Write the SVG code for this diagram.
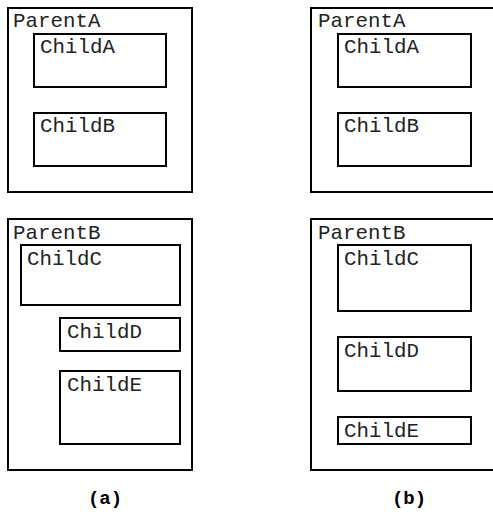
<svg xmlns="http://www.w3.org/2000/svg" width="493" height="517" viewBox="0 0 493 517">
<style>
rect{fill:#fff;stroke:#000;stroke-width:2}
text{font-family:"Liberation Mono","Courier New",monospace;font-size:20.8px;fill:#222}
.cap{font-weight:bold;font-size:19px;text-anchor:middle;fill:#000}
</style>
<rect x="0" y="0" width="493" height="517" style="stroke:none"/>
<g id="a-parentA"><rect x="8" y="8" width="184" height="184"/><text x="13" y="27">ParentA</text></g>
<g id="a-childA"><rect x="34" y="34" width="132" height="53"/><text x="40" y="53">ChildA</text></g>
<g id="a-childB"><rect x="34" y="113" width="132" height="53"/><text x="40" y="132">ChildB</text></g>
<g id="a-parentB"><rect x="8" y="219" width="184" height="251"/><text x="13" y="239">ParentB</text></g>
<g id="a-childC"><rect x="21" y="245" width="159" height="60"/><text x="27" y="265">ChildC</text></g>
<g id="a-childD"><rect x="60" y="318" width="120" height="33"/><text x="67" y="338">ChildD</text></g>
<g id="a-childE"><rect x="60" y="371" width="120" height="73"/><text x="67" y="391">ChildE</text></g>
<g id="b-parentA"><rect x="311" y="8" width="200" height="184"/><text x="318" y="27">ParentA</text></g>
<g id="b-childA"><rect x="338" y="34" width="133" height="53"/><text x="344" y="53">ChildA</text></g>
<g id="b-childB"><rect x="338" y="113" width="133" height="53"/><text x="344" y="132">ChildB</text></g>
<g id="b-parentB"><rect x="311" y="219" width="200" height="251"/><text x="318" y="239">ParentB</text></g>
<g id="b-childC"><rect x="338" y="245" width="133" height="66"/><text x="344" y="265">ChildC</text></g>
<g id="b-childD"><rect x="338" y="337" width="133" height="54"/><text x="344" y="357">ChildD</text></g>
<g id="b-childE"><rect x="338" y="417" width="133" height="27"/><text x="344" y="437">ChildE</text></g>
<g id="connectors"></g>
<text class="cap" x="105" y="504">(a)</text>
<text class="cap" x="409" y="504">(b)</text>
</svg>
